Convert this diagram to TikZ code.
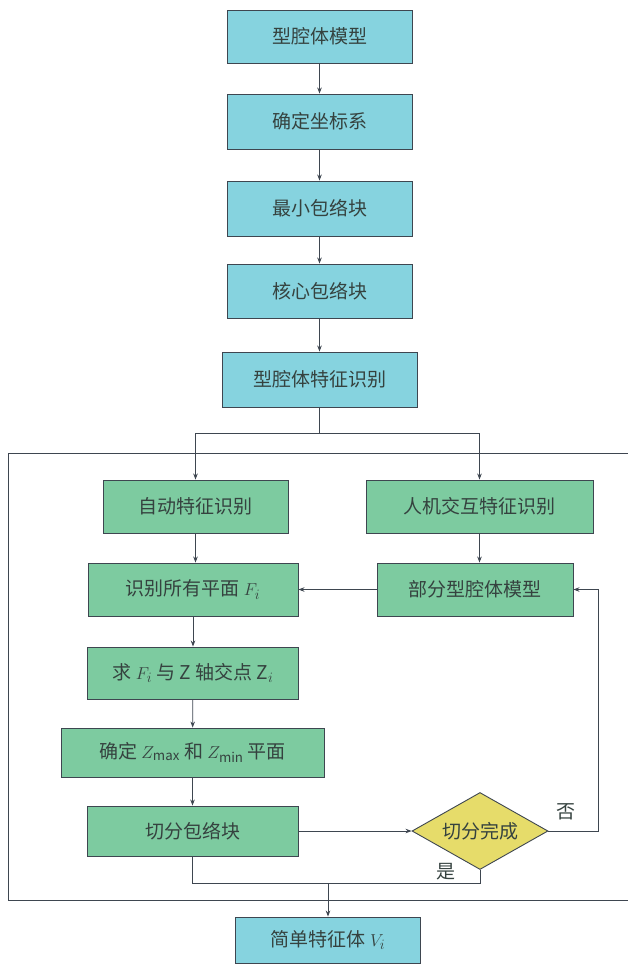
\documentclass[tikz,border=0pt]{standalone}
\usepackage{fontspec}
\setmainfont{Noto Sans CJK SC}
\usetikzlibrary{shapes.geometric,arrows.meta}
\definecolor{bluefill}{HTML}{86D3DF}
\definecolor{greenfill}{HTML}{7DCBA0}
\definecolor{yellowfill}{HTML}{E6DC6A}
\definecolor{edgecol}{HTML}{3E4650}
\definecolor{txtcol}{HTML}{35423F}
\begin{document}
\begin{tikzpicture}[x=1pt,y=-1pt,
  base/.style={draw=edgecol,line width=0.9pt,inner sep=0pt,text=txtcol,
    font=\fontsize{19}{21}\selectfont},
  bluebox/.style={base,rectangle,fill=bluefill},
  greenbox/.style={base,rectangle,fill=greenfill},
  decide/.style={base,diamond,fill=yellowfill,aspect=1.77},
  conn/.style={draw=edgecol,line width=0.8pt},
  arr/.style={conn,-{Stealth[length=6pt,width=4.5pt]}},
  lbl/.style={text=txtcol,font=\fontsize{19}{21}\selectfont,inner sep=0pt}]
\useasboundingbox (0,0) rectangle (628,964);
\fill[white] (0,0) rectangle (628,964);
% outer frame
\draw[conn] (628,453) -- (8,453) -- (8,900) -- (628,900);
% top column
\node[bluebox,minimum width=185pt,minimum height=53pt] (b1) at (319.5,36.5) {型腔体模型};
\node[bluebox,minimum width=185pt,minimum height=55pt] (b2) at (319.5,121.5) {确定坐标系};
\node[bluebox,minimum width=185pt,minimum height=55pt] (b3) at (319.5,208.5) {最小包络块};
\node[bluebox,minimum width=185pt,minimum height=54pt] (b4) at (319.5,291) {核心包络块};
\node[bluebox,minimum width=195pt,minimum height=55pt] (b5) at (319.5,379.5) {型腔体特征识别};
% branches
\node[greenbox,minimum width=185pt,minimum height=53pt] (auto) at (195.5,506.5) {自动特征识别};
\node[greenbox,minimum width=227pt,minimum height=53pt] (human) at (479.5,506.5) {人机交互特征识别};
\node[greenbox,minimum width=210pt,minimum height=53pt] (recog) at (193,589.5) {识别所有平面 $F_i$};
\node[greenbox,minimum width=196pt,minimum height=53pt] (part) at (475,589.5) {部分型腔体模型};
\node[greenbox,minimum width=211pt,minimum height=52pt] (solve) at (193,673) {求 $F_i$ 与 Z 轴交点 $\mathrm{Z}_i$};
\node[greenbox,minimum width=263pt,minimum height=49pt] (zmax) at (192.5,752.5) {确定 $Z_{\max}$ 和 $Z_{\min}$ 平面};
\node[greenbox,minimum width=211pt,minimum height=50pt] (cut) at (192.5,831) {切分包络块};
\node[decide,minimum width=136pt,minimum height=77pt] (done) at (480,831) {切分完成};
\node[bluebox,minimum width=185pt,minimum height=46pt] (final) at (328,940) {简单特征体 $V_i$};
\node[lbl] (no) at (566,812) {否};
\node[lbl] (yes) at (446,872) {是};
\coordinate (br) at (319.5,433);
\coordinate (join) at (328,883);
\coordinate (fb) at (598,831);
% connectors
\draw[arr] (b1) -- (b2);
\draw[arr] (b2) -- (b3);
\draw[arr] (b3) -- (b4);
\draw[arr] (b4) -- (b5);
\draw[conn] (b5.south) -- (br);
\draw[arr] (br) -| (auto.north);
\draw[arr] (br) -| (human.north);
\draw[arr] (auto.south) -- (auto.south |- recog.north);
\draw[arr] (human.south) -- (human.south |- part.north);
\draw[arr] (part.west) -- (recog.east);
\draw[arr] (recog) -- (solve);
\draw[arr] (solve) -- (zmax);
\draw[arr] (zmax) -- (cut);
\draw[arr] (cut.east) -- (done.west);
\draw[arr] (done.east) -- (fb) |- (part.east);
\draw[conn] (cut.south) |- (join);
\draw[conn] (done.south) |- (join);
\draw[arr] (join) -- (final.north);
\end{tikzpicture}
\end{document}
